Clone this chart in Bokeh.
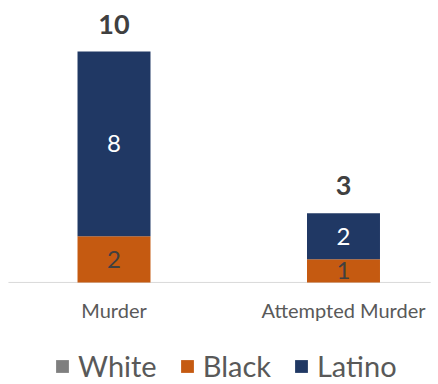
from bokeh.plotting import figure
from bokeh.models import ColumnDataSource, Legend, LegendItem, Range1d
from bokeh.core.properties import value
from bokeh.embed import file_html
from bokeh.resources import INLINE

categories = ["Murder", "Attempted Murder"]
white = [0, 0]
black = [2, 1]
latino = [8, 2]
series_names = ["White", "Black", "Latino"]
colors = ["#7F7F7F", "#C55A11", "#203864"]

FONT = "Lato"
xs = list(range(len(categories)))
totals = [w + b + l for w, b, l in zip(white, black, latino)]

src = ColumnDataSource(dict(x=xs, cat=categories, White=white, Black=black, Latino=latino, total=totals))

p = figure(width=438, height=384, output_backend="svg", toolbar_location=None,
           x_range=Range1d(-0.4946, 1.414), y_range=Range1d(-4.42, 12.21),
           min_border=0, outline_line_color=None)
p.xaxis.visible = False
p.yaxis.visible = False
p.xgrid.visible = False
p.ygrid.visible = False
p.background_fill_color = "white"
p.border_fill_color = "white"

# baseline
p.segment(x0=[-0.46], y0=[0], x1=[1.38], y1=[0], line_color="#D9D9D9", line_width=1)

rs = p.vbar_stack(series_names, x="x", width=0.318, color=colors, source=src, line_color=None)

# segment labels
bl_x, bl_y, bl_t = [], [], []
la_x, la_y, la_t = [], [], []
for i in xs:
    if black[i] > 0:
        bl_x.append(i); bl_y.append(white[i] + black[i] / 2); bl_t.append(str(black[i]))
    if latino[i] > 0:
        la_x.append(i); la_y.append(white[i] + black[i] + latino[i] / 2); la_t.append(str(latino[i]))

p.text(x=bl_x, y=bl_y, text=bl_t, text_align="center", text_baseline="middle",
       text_font=value(FONT), text_font_size="24px", text_color="#404040")
p.text(x=la_x, y=la_y, text=la_t, text_align="center", text_baseline="middle",
       text_font=value(FONT), text_font_size="24px", text_color="white")

# totals
p.text(x=xs, y=[t + 1.18 for t in totals], text=[str(t) for t in totals],
       text_align="center", text_baseline="middle", text_font=value(FONT),
       text_font_size="27px", text_font_style="bold", text_color="#404040")

# category labels
p.text(x=xs, y=[-1.2] * len(xs), text=categories, text_align="center", text_baseline="middle",
       text_font=value(FONT), text_font_size="20px", text_color="#595959")

legend = Legend(items=[LegendItem(label=n, renderers=[r]) for n, r in zip(series_names, rs)],
                orientation="horizontal", location=(54, 1),
                label_text_font=FONT, label_text_font_size="29px", label_text_color="#595959",
                glyph_width=16, glyph_height=16, label_standoff=8, spacing=22,
                padding=0, margin=0, border_line_color=None, background_fill_alpha=0)
p.add_layout(legend, "center")

open("out.html", "w").write(file_html(p, INLINE))
